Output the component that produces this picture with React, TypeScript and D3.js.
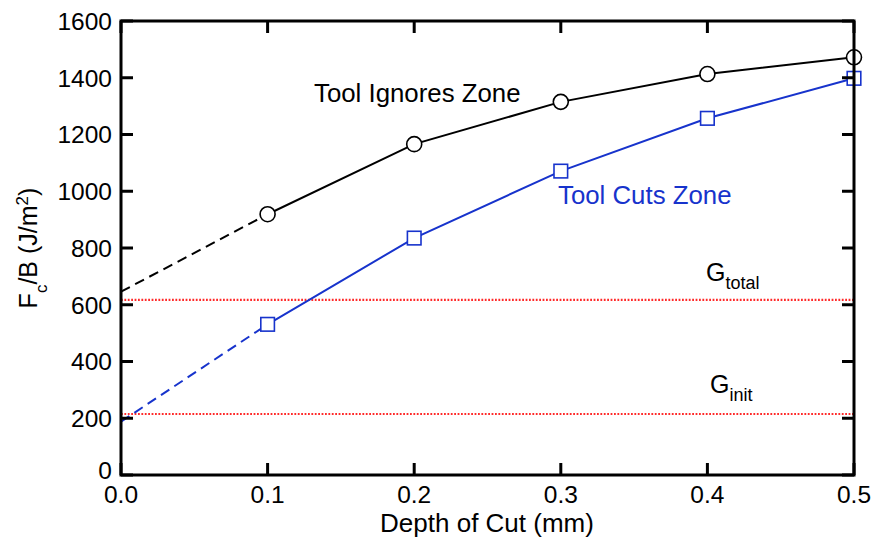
import React from "react";
import * as d3 from "d3";

// depth of cut (mm)
const depths = [0.1, 0.2, 0.3, 0.4, 0.5];
// Fc/B (J/m^2)
const ignoresZone = [919, 1166, 1315, 1413, 1472];
const cutsZone = [531, 835, 1071, 1257, 1398];
// extrapolated values at zero depth (dashed)
const ignoresAtZero = 646;
const cutsAtZero = 188;
// reference energies (dotted red)
const gTotal = 617;
const gInit = 215;

const xTicks = [0, 0.1, 0.2, 0.3, 0.4, 0.5];
const yTicks = [0, 200, 400, 600, 800, 1000, 1200, 1400, 1600];

const W = 875;
const H = 540;
const margin = { top: 21, right: 21, bottom: 65, left: 121 };
const FONT = "'Liberation Sans', Arial, Helvetica, sans-serif";
const BLUE = "#1733cc";
const RED = "#ff2a2a";

export default function App() {
  const x = d3.scaleLinear().domain([0, 0.5]).range([margin.left, W - margin.right]);
  const y = d3.scaleLinear().domain([0, 1600]).range([H - margin.bottom, margin.top]);

  const line = d3
    .line<[number, number]>()
    .x((d) => x(d[0]))
    .y((d) => y(d[1]));

  const blackPts: [number, number][] = depths.map((d, i) => [d, ignoresZone[i]]);
  const bluePts: [number, number][] = depths.map((d, i) => [d, cutsZone[i]]);

  const [x0, x1] = x.range();
  const [yb, yt] = y.range();
  const tickLen = 12;

  return (
    <svg
      width={W}
      height={H}
      style={{ position: "absolute", left: 0, top: 0, background: "#fff" }}
      fontFamily={FONT}
    >
      {/* reference lines */}
      {[gTotal, gInit].map((g) => (
        <line
          key={g}
          x1={x0}
          x2={x1}
          y1={y(g)}
          y2={y(g)}
          stroke={RED}
          strokeWidth={2.2}
          strokeDasharray="1.8 1.6"
        />
      ))}

      {/* dashed extrapolations */}
      <path
        d={line([[0, ignoresAtZero], blackPts[0]]) || ""}
        fill="none"
        stroke="#000"
        strokeWidth={2}
        strokeDasharray="10 6"
      />
      <path
        d={line([[0, cutsAtZero], bluePts[0]]) || ""}
        fill="none"
        stroke={BLUE}
        strokeWidth={2}
        strokeDasharray="10 6"
      />

      {/* series lines */}
      <path d={line(blackPts) || ""} fill="none" stroke="#000" strokeWidth={2} />
      <path d={line(bluePts) || ""} fill="none" stroke={BLUE} strokeWidth={2} />

      {/* markers */}
      {blackPts.map((p, i) => (
        <circle key={"c" + i} cx={x(p[0])} cy={y(p[1])} r={7.5} fill="#fff" stroke="#000" strokeWidth={1.6} />
      ))}
      {bluePts.map((p, i) => (
        <rect
          key={"s" + i}
          x={x(p[0]) - 6.8}
          y={y(p[1]) - 6.8}
          width={13.6}
          height={13.6}
          fill="#fff"
          stroke={BLUE}
          strokeWidth={1.6}
        />
      ))}

      {/* frame */}
      <rect x={x0} y={yt} width={x1 - x0} height={yb - yt} fill="none" stroke="#000" strokeWidth={3} />

      {/* ticks */}
      {yTicks.map((t) => (
        <g key={"y" + t}>
          <line x1={x0} x2={x0 + tickLen} y1={y(t)} y2={y(t)} stroke="#000" strokeWidth={3} />
          <line x1={x1} x2={x1 - tickLen} y1={y(t)} y2={y(t)} stroke="#000" strokeWidth={3} />
          <text x={x0 - 9} y={y(t) - (t === 0 ? 5 : 0)} dy="0.36em" textAnchor="end" fontSize={24.5}>
            {t}
          </text>
        </g>
      ))}
      {xTicks.map((t) => (
        <g key={"x" + t}>
          <line x1={x(t)} x2={x(t)} y1={yb} y2={yb - tickLen} stroke="#000" strokeWidth={3} />
          <line x1={x(t)} x2={x(t)} y1={yt} y2={yt + tickLen} stroke="#000" strokeWidth={3} />
          <text x={x(t)} y={yb + 28} textAnchor="middle" fontSize={24.5}>
            {t.toFixed(1)}
          </text>
        </g>
      ))}

      {/* axis titles */}
      <text x={(x0 + x1) / 2 - 0.5} y={532} textAnchor="middle" fontSize={26}>
        Depth of Cut (mm)
      </text>
      <text transform={`translate(37,${(yb + yt) / 2}) rotate(-90)`} textAnchor="middle" fontSize={25}>
        F<tspan baselineShift="sub" fontSize={17}>c</tspan>
        <tspan>/B (J/m</tspan>
        <tspan baselineShift="super" fontSize={17}>2</tspan>
        <tspan>)</tspan>
      </text>

      {/* annotations */}
      <text x={314} y={102} fontSize={25.8}>
        Tool Ignores Zone
      </text>
      <text x={558} y={204} fontSize={25.8} fill={BLUE}>
        Tool Cuts Zone
      </text>
      <text x={706} y={281} fontSize={25}>
        G<tspan fontSize={18} dy={8}>total</tspan>
      </text>
      <text x={710} y={393} fontSize={25}>
        G<tspan fontSize={18} dy={8}>init</tspan>
      </text>
    </svg>
  );
}
